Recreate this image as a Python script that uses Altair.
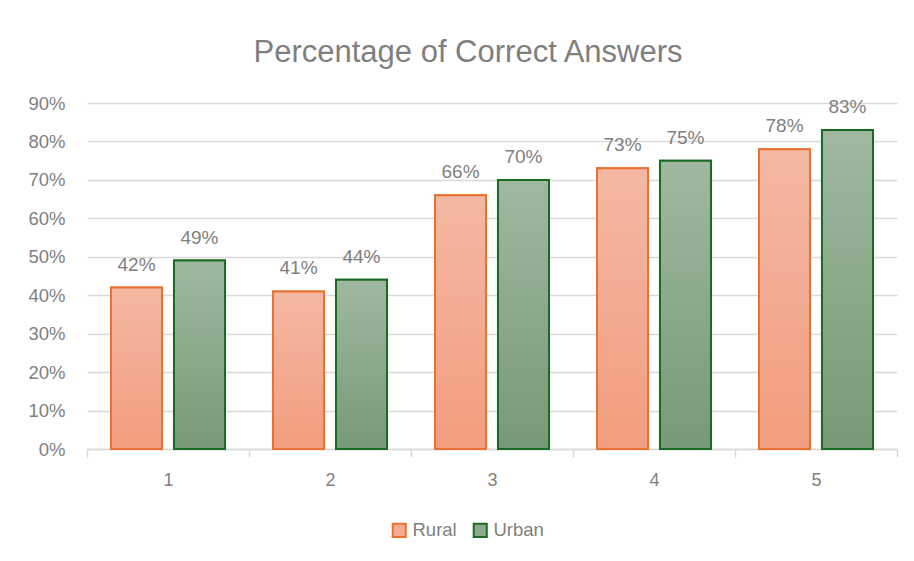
import altair as alt
import pandas as pd

groups = ["1", "2", "3", "4", "5"]
series = ["Rural", "Urban"]
rural = [0.42, 0.41, 0.66, 0.73, 0.78]
urban = [0.49, 0.44, 0.70, 0.75, 0.83]
y_ticks = [0, 0.1, 0.2, 0.3, 0.4, 0.5, 0.6, 0.7, 0.8, 0.9]

rows = []
for g, r, u in zip(groups, rural, urban):
    rows.append({"group": g, "series": "Rural", "value": r})
    rows.append({"group": g, "series": "Urban", "value": u})
df = pd.DataFrame(rows)

FONT = "Liberation Sans"
GREY = "#808080"
GRID = "#d9d9d9"
stroke_colors = ["#E97132", "#196B24"]
solid_fill = ["#F3AC92", "#8DA98C"]

x = alt.X(
    "group:N",
    title=None,
    scale=alt.Scale(paddingInner=0, paddingOuter=0),
    axis=alt.Axis(
        labelAngle=0, tickBand="extent", tickSize=8, tickColor=GRID, tickWidth=1.5,
        domainColor=GRID, domainWidth=1.5, labelPadding=14, labelFontSize=18,
        labelColor=GREY, labelFont=FONT, grid=False,
    ),
)
xo = alt.XOffset(
    "series:N",
    scale=alt.Scale(domain=series, paddingInner=0.19, paddingOuter=0.381),
)
y = alt.Y(
    "value:Q",
    title=None,
    scale=alt.Scale(domain=[0, 0.9]),
    axis=alt.Axis(
        values=y_ticks, format=".0%", ticks=False, domain=False, grid=True,
        gridColor=GRID, gridWidth=1.5, labelPadding=22, labelFontSize=18.5,
        labelColor=GREY, labelFont=FONT,
    ),
)

base = alt.Chart(df).mark_bar(strokeWidth=2).encode(
    x=x, xOffset=xo, y=y,
    fill=alt.Fill("series:N", scale=alt.Scale(domain=series, range=solid_fill),
                  legend=alt.Legend(
                      title=None, orient="none", legendX=303, legendY=418,
                      direction="horizontal", symbolType="square", symbolSize=170,
                      symbolStrokeWidth=2, labelFontSize=18.5, labelColor=GREY,
                      labelFont=FONT, columnPadding=12, labelOffset=4,
                  )),
    stroke=alt.Stroke("series:N", scale=alt.Scale(domain=series, range=stroke_colors)),
)


def grad(top, bottom):
    return alt.Gradient(
        gradient="linear",
        stops=[alt.GradientStop(color=top, offset=0), alt.GradientStop(color=bottom, offset=1)],
        x1=0, x2=0, y1=0, y2=1,
    )


rural_bars = alt.Chart(df).transform_filter(alt.datum.series == "Rural").mark_bar(
    fill=grad("#F4B8A3", "#F29D7E"), stroke="#E97132", strokeWidth=2
).encode(x=x, xOffset=xo, y=y)

urban_bars = alt.Chart(df).transform_filter(alt.datum.series == "Urban").mark_bar(
    fill=grad("#A0B89F", "#789977"), stroke="#196B24", strokeWidth=2
).encode(x=x, xOffset=xo, y=y)

labels = alt.Chart(df).mark_text(
    baseline="alphabetic", dy=-17, fontSize=19, color=GREY, font=FONT
).encode(x=x, xOffset=xo, y=y, text=alt.Text("value:Q", format=".0%"))

chart = alt.layer(base, rural_bars, urban_bars, labels).properties(
    width=810,
    height=346,
    autosize=alt.AutoSizeParams(type="none"),
    padding={"left": 79, "top": 95, "right": 9, "bottom": 100},
    background="white",
    title=alt.TitleParams(
        "Percentage of Correct Answers", fontSize=31, font=FONT, color="#7f7f7f",
        fontWeight="normal", anchor="middle", dx=-24, offset=25,
    ),
).configure_view(stroke=None)

chart.save("out.html", embed_options={"renderer": "svg", "actions": False})
